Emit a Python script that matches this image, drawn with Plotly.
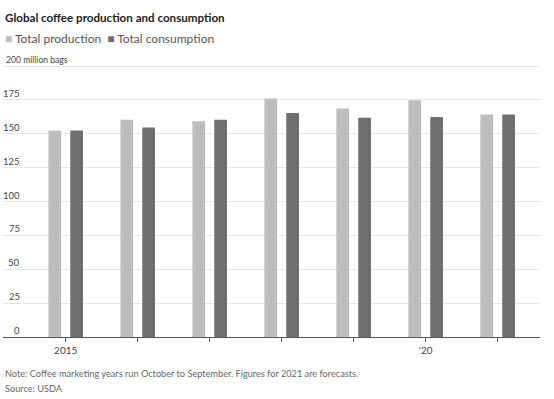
import plotly.graph_objects as go

years = [2015, 2016, 2017, 2018, 2019, 2020, 2021]
production = [152.5, 160.3, 159.2, 176.0, 168.6, 174.8, 164.3]
consumption = [152.4, 154.6, 160.3, 165.4, 161.9, 162.4, 164.3]
x_ticktext = ["2015", "", "", "", "", "'20", ""]
y_ticks = [0, 25, 50, 75, 100, 125, 150, 175, 200]
y_ticktext = ["0", "25", "50", "75", "100", "125", "150", "175", "200 million bags"]

C_PROD = "#bdbdbd"
C_CONS = "#6e6e6e"
FONT = "Lato, Roboto, sans-serif"

W, H = 554, 399
ML, MR, MT, MB = 3, 14, 62, 62
PW, PH = W - ML - MR, H - MT - MB

fig = go.Figure()
fig.add_trace(go.Bar(x=years, y=production, name="Total production",
                     marker=dict(color=C_PROD, line=dict(width=0)),
                     width=0.176, offset=-0.240))
fig.add_trace(go.Bar(x=years, y=consumption, name="Total consumption",
                     marker=dict(color=C_CONS, line=dict(width=0)),
                     width=0.176, offset=0.064))

anns = []
for v, t in zip(y_ticks, y_ticktext):
    if v == 200:
        anns.append(dict(x=0, xref="paper", y=v, yref="y", text=t,
                         xanchor="left", yanchor="bottom", xshift=1, yshift=-1,
                         showarrow=False, font=dict(family=FONT, size=8.6, color="#444")))
    else:
        anns.append(dict(x=0, xref="paper", y=v, yref="y", text=t,
                         xanchor="right", yanchor="bottom", xshift=19, yshift=-1,
                         showarrow=False, font=dict(family=FONT, size=9.5, color="#444")))


def ptext(px, py, text, font, anchor="left"):
    xp = (px - ML) / PW
    yp = (H - MB - py) / PH
    return dict(x=xp, y=yp, xref="paper", yref="paper", text=text, showarrow=False,
                xanchor=anchor, yanchor="middle", font=font)


anns.append(ptext(3, 17, "<b>Global coffee production and consumption</b>",
                  dict(family=FONT, size=11.6, color="#222")))
anns.append(ptext(3, 38, f"<span style='color:{C_PROD}'>■</span> Total production&nbsp;&nbsp;"
                         f"<span style='color:{C_CONS}'>■</span> Total consumption",
                  dict(family=FONT, size=12, color="#555")))
anns.append(ptext(3, 373, "Note: Coffee marketing years run October to September. Figures for 2021 are forecasts.",
                  dict(family=FONT, size=9.2, color="#666")))
anns.append(ptext(3, 389, "Source: USDA", dict(family=FONT, size=9.2, color="#666")))

fig.update_layout(
    width=W, height=H,
    margin=dict(l=ML, r=MR, t=MT, b=MB),
    paper_bgcolor="white", plot_bgcolor="white",
    showlegend=False,
    barmode="overlay",
    annotations=anns,
    xaxis=dict(range=[2014.129, 2021.588], tickvals=years, ticktext=x_ticktext,
               showgrid=False, zeroline=False, showline=True, linecolor="#555", linewidth=1,
               ticks="outside", ticklen=4, tickcolor="#555", tickwidth=1,
               tickfont=dict(family=FONT, size=10, color="#444")),
    yaxis=dict(range=[0, 203], tickvals=y_ticks, showticklabels=False,
               showgrid=True, gridcolor="#e6e6e6", gridwidth=1, zeroline=False),
)

fig.write_html("out.html", config={"displayModeBar": False},
               post_script="document.body.style.margin='0';document.body.style.padding='0';")
